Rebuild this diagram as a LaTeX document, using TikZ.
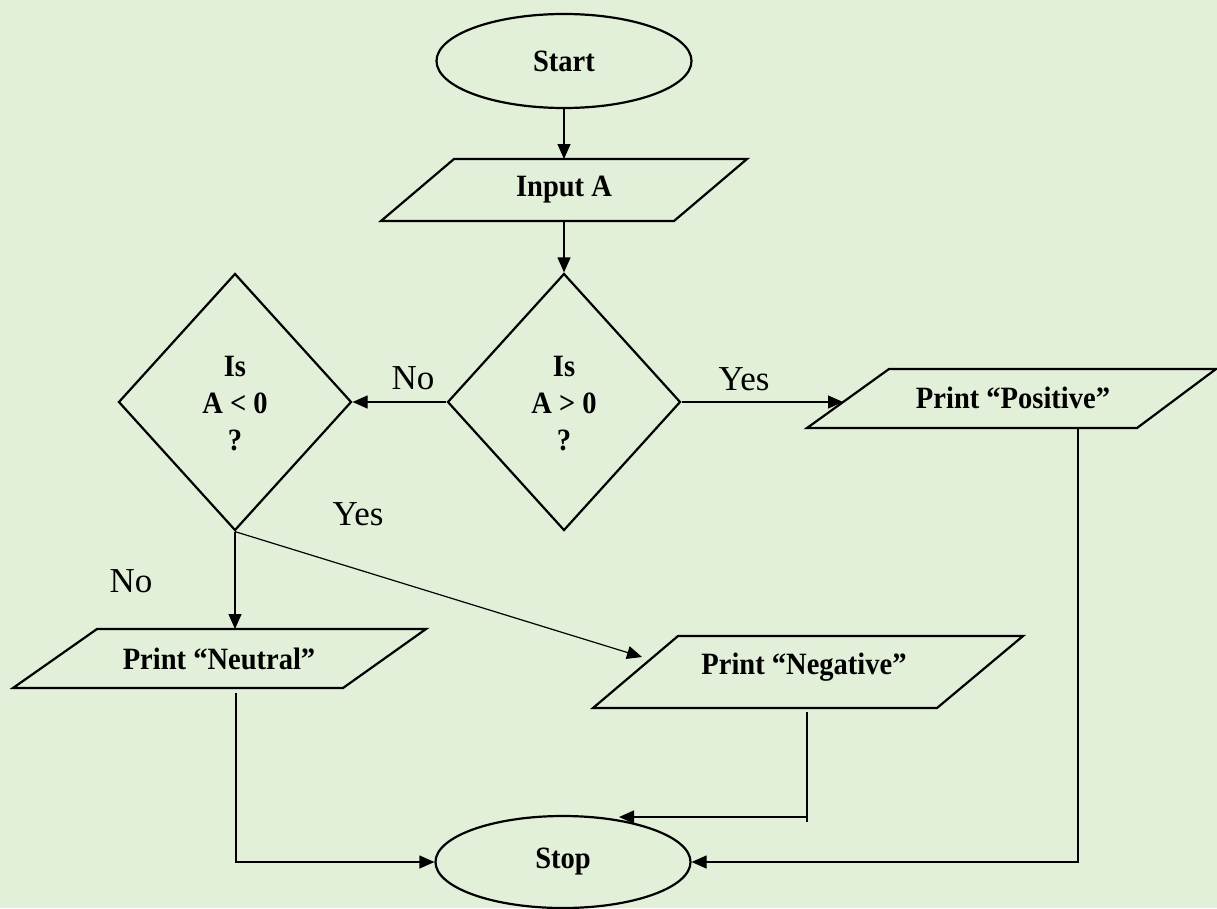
\documentclass[tikz,border=0pt]{standalone}
\usepackage{graphicx}
\usepackage{fontspec}
\setmainfont{Liberation Serif}
\usetikzlibrary{shapes.geometric,arrows.meta}
\definecolor{bgc}{HTML}{E2EFD9}
\newcommand{\nt}[1]{\scalebox{0.92}[1]{#1}}
\begin{document}
\begin{tikzpicture}[x=1pt,y=-1pt,
  shapeline/.style={draw=black,line width=2.2pt},
  term/.style={shapeline,ellipse,inner sep=0pt,minimum width=255pt,minimum height=94pt},
  decision/.style={shapeline,diamond,inner sep=0pt,minimum width=233pt,minimum height=257pt,align=center},
  boxtext/.style={font=\fontsize{31}{37}\selectfont\bfseries},
  lbl/.style={font=\fontsize{35}{40}\selectfont},
  conn/.style={draw=black,line width=1.2pt},
  arr/.style={conn,-{Triangle[length=15pt,width=13pt]}},
  io/.style={shapeline,line join=miter}
]
\fill[bgc] (0,0) rectangle (1217,908);
\useasboundingbox (0,0) rectangle (1217,908);

% terminals
\node[term,boxtext] (start) at (564,61) {\nt{Start}};
\node[term,boxtext,minimum height=92pt] (stop) at (563,862) {\nt{Stop}};

% Input A
\draw[io] (381,221) -- (454,159) -- (747,159) -- (674,221) -- cycle;
\node[boxtext] (inp) at (564,190) {\nt{Input A}};
\coordinate (inpN) at (564,159);
\coordinate (inpS) at (564,221);

% decisions
\node[decision] (d1) at (564,402) {};
\node[decision] (d2) at (235,402) {};
\node[boxtext,align=center] (t1) at (564,404) {\nt{Is}\\\nt{A > 0}\\\nt{?}};
\node[boxtext,align=center] (t2) at (235,404) {\nt{Is}\\\nt{A < 0}\\\nt{?}};

% Print Positive
\draw[io] (807,428) -- (889,369) -- (1216,369) -- (1137,428) -- cycle;
\node[boxtext] (pos) at (1013,398) {\nt{Print “Positive”}};
\coordinate (posW) at (843,402);
\coordinate (posS) at (1078,428);

% Print Neutral
\draw[io] (13,688) -- (97,629) -- (426,629) -- (343,688) -- cycle;
\node[boxtext] (neu) at (219,659) {\nt{Print “Neutral”}};
\coordinate (neuN) at (235,629);
\coordinate (neuS) at (236,693);

% Print Negative
\draw[io] (593,708) -- (678,636) -- (1023,636) -- (937,708) -- cycle;
\node[boxtext] (neg) at (804,667) {\nt{Print “Negative”}};
\coordinate (negW) at (642,657);
\coordinate (negS) at (807,712);
\coordinate (negJ) at (807,817);
\coordinate (negE) at (807,822);
\coordinate (stopT) at (619,817);

% connectors
\draw[arr] (start.south) -- (inpN);
\draw[arr] (inpS) -- (d1.north);
\draw[arr] (d1.west) -- (d2.east);
\draw[arr] (d1.east) -- (posW);
\draw[arr] (d2.south) -- (neuN);
\draw[arr] (d2.south) -- (negW);
\draw[arr] (neuS) |- (stop.west);
\draw[conn] (negS) -- (negE);
\draw[arr] (negJ) -- (stopT);
\draw[arr] (posS) |- (stop.east);

% labels
\node[lbl] (lyes1) at (744,379) {Yes};
\node[lbl] (lno1) at (413,378) {No};
\node[lbl] (lyes2) at (358,514) {Yes};
\node[lbl] (lno2) at (131,581) {No};
\end{tikzpicture}
\end{document}
